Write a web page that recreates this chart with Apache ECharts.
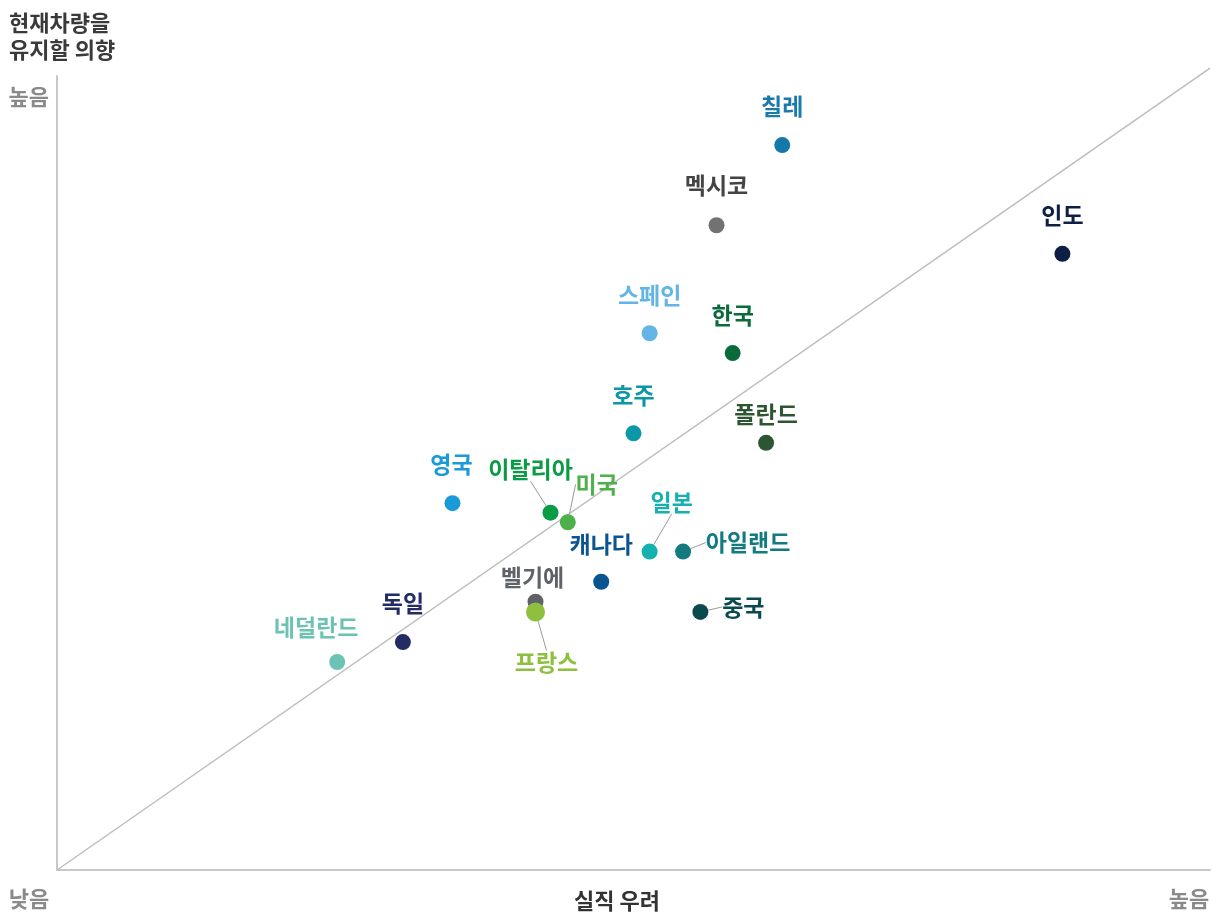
<!DOCTYPE html>
<html>
<head>
<meta charset="utf-8">
<script src="https://cdn.jsdelivr.net/npm/echarts@6/dist/echarts.min.js"></script>
<style>
html,body{margin:0;padding:0;background:#fff;}
#c{width:1214px;height:915px;}
</style>
</head>
<body>
<div id="c"></div>
<script>
// ---- data ----
const countries = ['칠레','멕시코','인도','스페인','한국','호주','폴란드','영국','이탈리아','미국','일본','아일랜드','캐나다','벨기에','프랑스','중국','독일','네덜란드'];
const jobWorry  = [62.9, 57.2, 87.2, 51.4, 58.6, 50.0, 61.5, 34.3, 42.8, 44.3, 51.4, 54.3, 47.2, 41.5, 41.5, 55.8, 30.0, 24.3];
const keepCar   = [91.3, 81.2, 77.6, 67.6, 65.1, 55.0, 53.8, 46.2, 45.0, 43.8, 40.1, 40.1, 36.3, 33.8, 32.5, 32.5, 28.7, 26.2];
const xTickLabels = {0: '낮음', 100: '높음'};
const yTickLabels = {100: '높음'};
const yTitle = '현재차량을\n유지할 의향';
const xTitle = '실직 우려';

// ---- styles ----
const dotColors = ['#1478a8','#707274','#0d1f45','#62b5e5','#0a6b3a','#0a97a8','#2d5532','#1a9ad6','#0a9b45','#4db04a','#15b0b0','#137a80','#0a5590','#5f6368','#8dc03f','#0a4a4f','#232c63','#6cc3b4'];
const labelColors = ['#1a7bab','#444444','#0d1f45','#62b5e5','#0a6b3a','#0a97a8','#2d5532','#1a9ad6','#0a9b45','#4db04a','#15b0b0','#137a80','#0a5590','#5f6368','#8dc03f','#0a4a4f','#232c63','#6cc3b4'];
const dotSizes = [16,16,16,16,16,16,16,16,16,16,16,16,16,16,19,16,16,16];
const labelOffsets = [[0,-39],[0,-40],[0,-39],[0,-38],[0,-38],[0,-38],[0,-29],[-1,-39],[-20,-43],[29,-38],[22,-49],[65,-9],[0,-38],[-3,-24],[11,50],[43,-5],[0,-39],[-21,-35]];
const hasLeader = [false,false,false,false,false,false,false,false,true,true,true,true,false,false,true,true,false,false];

const FONT = '"Noto Sans CJK KR","Noto Sans",sans-serif';

const scatterData = countries.map((n,i)=>({
  name: n,
  value: [jobWorry[i], keepCar[i]],
  symbolSize: dotSizes[i],
  itemStyle: {color: dotColors[i], opacity: 1},
  label: {color: labelColors[i]},
  labelLine: {show: hasLeader[i]}
}));

const chart = echarts.init(document.getElementById('c'), null, {renderer:'canvas'});
chart.setOption({
  backgroundColor: '#ffffff',
  animation: false,
  title: {
    text: yTitle, left: 4, top: 4,
    textStyle: {fontFamily: FONT, fontSize: 22, fontWeight: 'bold', color: '#3a3a3a', lineHeight: 27}
  },
  grid: {left: 57, right: 4, top: 76, bottom: 45, containLabel: false, outerBoundsMode: 'none'},
  xAxis: {
    type: 'value', min: 0, max: 100, interval: 100,
    splitLine: {show: false},
    axisTick: {show: false},
    axisLine: {lineStyle: {color: '#c8c8c8', width: 2}},
    axisLabel: {
      margin: 18,
      formatter: v => xTickLabels[v] !== undefined ? (v === 0 ? '{a|' + xTickLabels[v] + '}' : '{b|' + xTickLabels[v] + '}') : '',
      rich: {
        a: {fontFamily: FONT, fontSize: 22, fontWeight: 'bold', color: '#8a8a8a', padding: [0, 56, 0, 0]},
        b: {fontFamily: FONT, fontSize: 22, fontWeight: 'bold', color: '#8a8a8a', padding: [0, 42, 0, 0]}
      }
    },
    name: xTitle, nameLocation: 'middle', nameGap: 20, nameMoveOverlap: false,
    nameTextStyle: {fontFamily: FONT, fontSize: 22, fontWeight: 'bold', color: '#333333', padding: [0, 33, 0, 0]}
  },
  yAxis: {
    type: 'value', min: 0, max: 100, interval: 100,
    splitLine: {show: false},
    axisTick: {show: false},
    axisLine: {show: true, lineStyle: {color: '#c8c8c8', width: 2}},
    axisLabel: {
      margin: 8, verticalAlign: 'top',
      formatter: v => yTickLabels[v] !== undefined ? yTickLabels[v] : '',
      fontFamily: FONT, fontSize: 22, fontWeight: 'bold', color: '#8a8a8a',
      padding: [10, 0, 0, 0]
    }
  },
  series: [
    {
      type: 'line', silent: true, clip: false, symbol: 'none',
      data: [[0,0],[100,101]],
      lineStyle: {color: '#bdbdbd', width: 1.5},
      z: 1
    },
    {
      type: 'scatter', z: 3,
      data: scatterData,
      itemStyle: {opacity: 1},
      label: {
        show: true, position: 'inside',
        formatter: p => p.name,
        fontFamily: FONT, fontSize: 23, fontWeight: 'bold', opacity: 1
      },
      labelLine: {show: false, lineStyle: {color: '#9a9a9a', width: 1}},
      labelLayout: p => ({dx: labelOffsets[p.dataIndex][0], dy: labelOffsets[p.dataIndex][1]})
    }
  ]
});
</script>
</body>
</html>
